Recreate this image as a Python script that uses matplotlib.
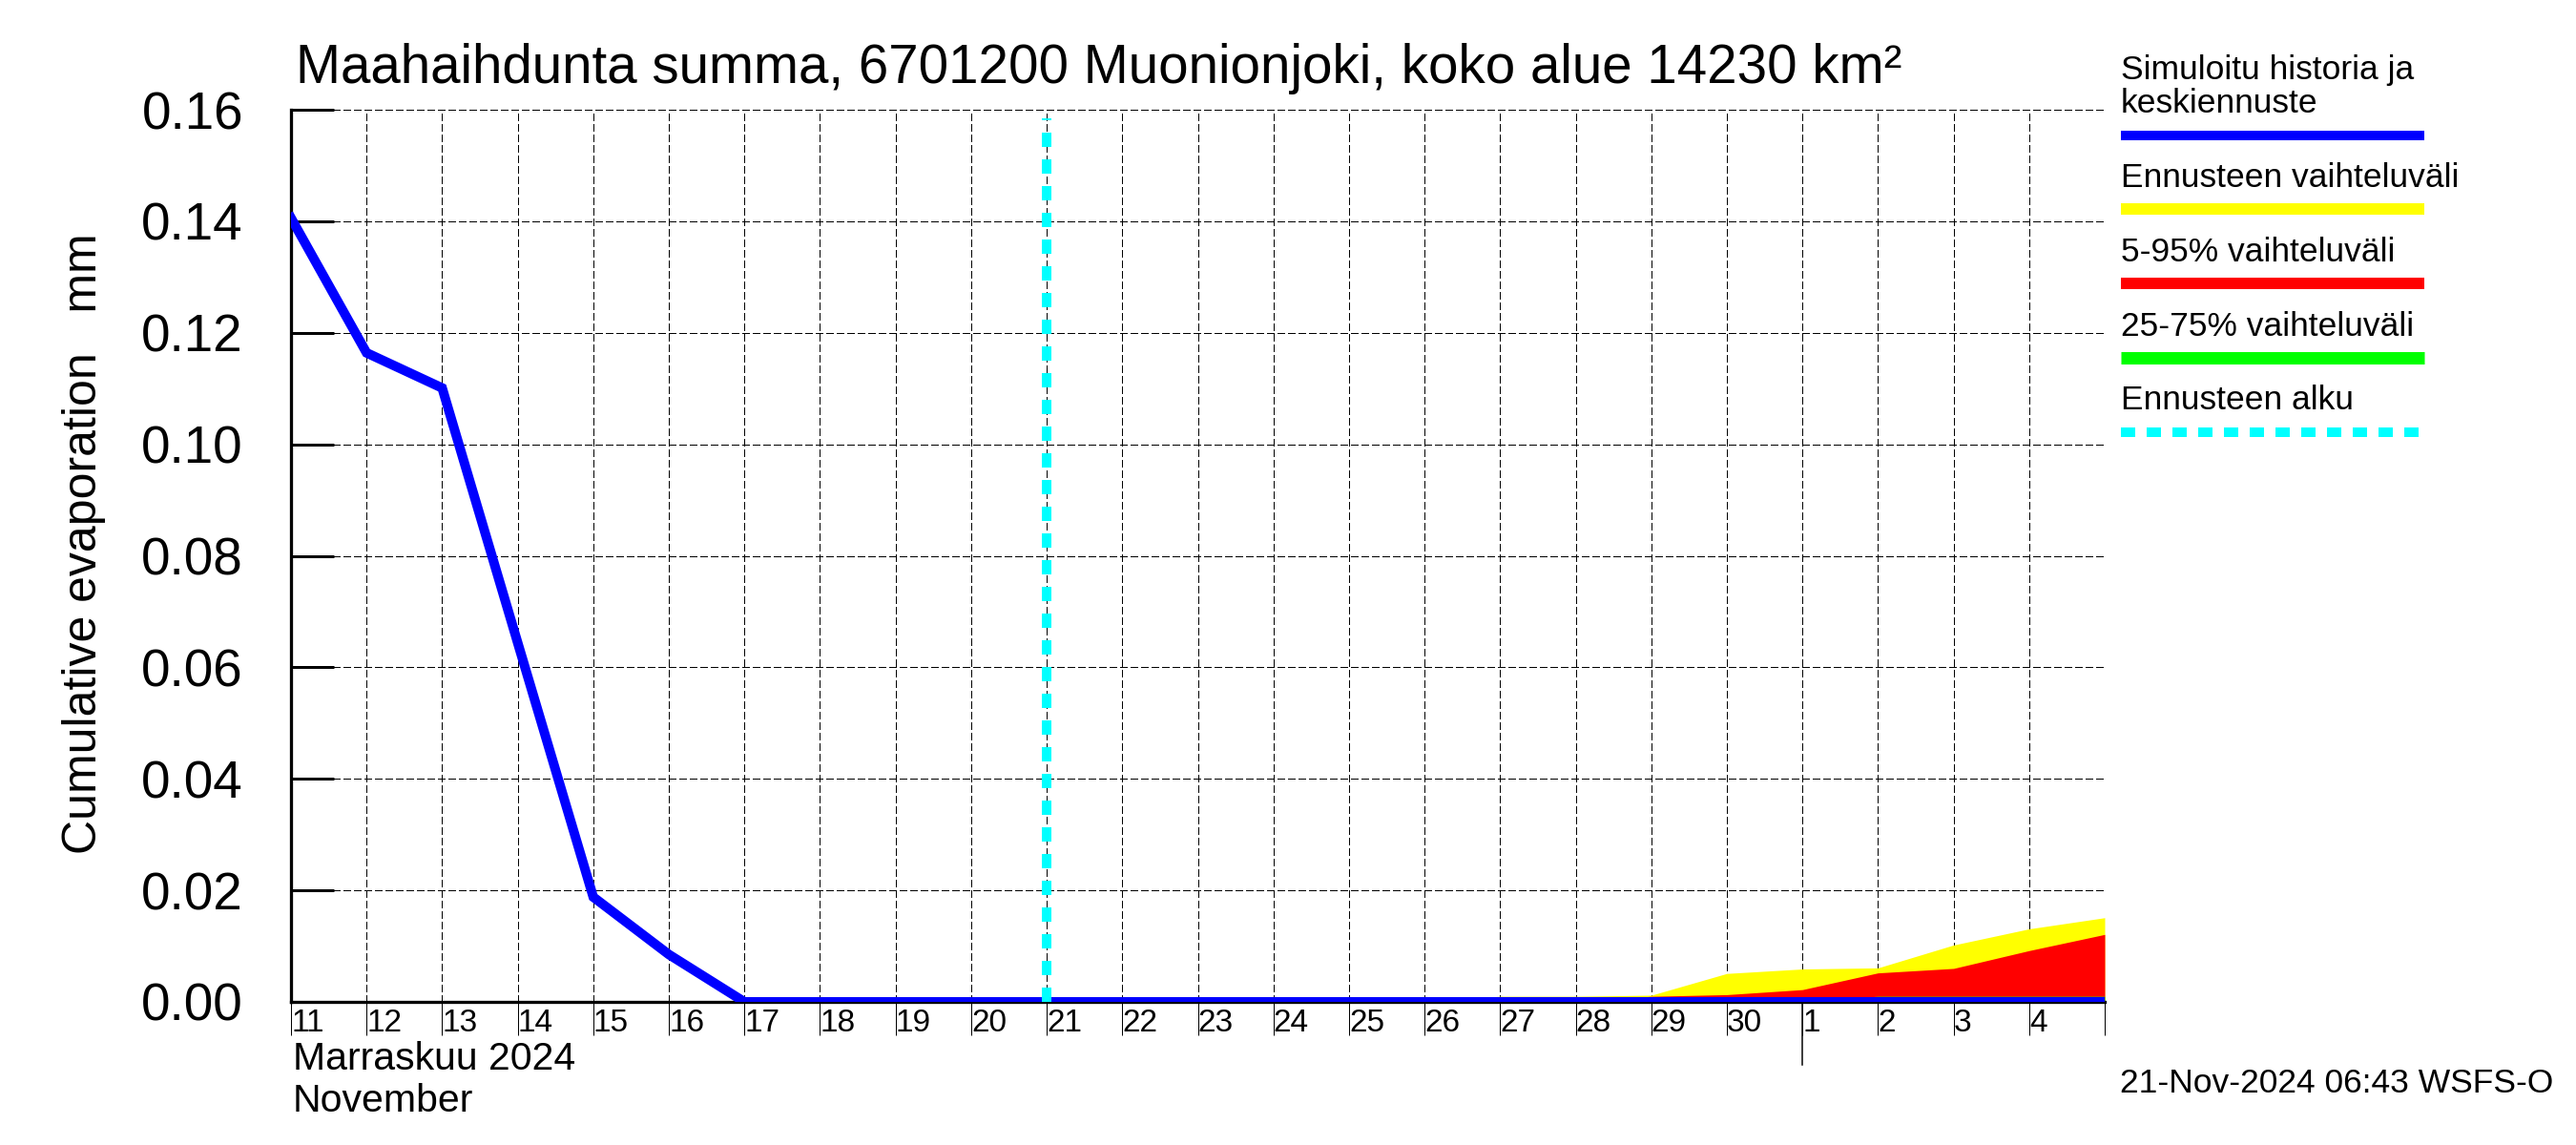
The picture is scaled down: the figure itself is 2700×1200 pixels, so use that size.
import numpy as np
import pandas as pd
import matplotlib
matplotlib.use("Agg")
import matplotlib.pyplot as plt
import matplotlib.transforms as mtransforms
from matplotlib.lines import Line2D

plt.rcParams['font.family'] = ['Liberation Sans', 'DejaVu Sans']

# simulated history (Nov 11 .. Nov 21)
hist_dates = pd.date_range("2024-11-11", "2024-11-21", freq="D")
hist_vals = [0.1406, 0.1164, 0.1101, 0.0644, 0.0188, 0.0085, 0.0, 0.0, 0.0, 0.0, 0.0]

# forecast (Nov 21 .. Dec 5)
fc_dates = pd.date_range("2024-11-21", "2024-12-05", freq="D")
fc_mean = [0.0] * 15
fc_min = [0.0] * 15
fc_max = [0.0, 0.0, 0.0, 0.0, 0.0, 0.0, 0.001, 0.001, 0.0012, 0.0051,
          0.0059, 0.0061, 0.0102, 0.0131, 0.0151]
fc_p95 = [0.0, 0.0, 0.0, 0.0, 0.0, 0.0, 0.0, 0.0, 0.001, 0.0013,
          0.0022, 0.0052, 0.006, 0.0092, 0.0121]
fc_p75 = [0.0] * 11 + [0.001, 0.001, 0.001, 0.001]

forecast_start = pd.Timestamp("2024-11-21")
month_start = pd.Timestamp("2024-12-01")

tick_dates = pd.date_range("2024-11-11", "2024-12-05", freq="D")
tick_labels = [str(d.day) for d in tick_dates[:-1]] + [""]
y_ticks = [0.00, 0.02, 0.04, 0.06, 0.08, 0.10, 0.12, 0.14, 0.16]

title = "Maahaihdunta summa, 6701200 Muonionjoki, koko alue 14230 km\u00b2"
ylabel = "Cumulative evaporation   mm"
legend_labels = ["Simuloitu historia ja\nkeskiennuste", "Ennusteen vaihteluväli",
                 "5-95% vaihteluväli", "25-75% vaihteluväli", "Ennusteen alku"]
footer = "21-Nov-2024 06:43 WSFS-O"

W, H = 2700, 1200
PT = 0.72  # px -> pt at dpi 100

fig = plt.figure(figsize=(27, 12), dpi=100)
ax = fig.add_axes([305 / W, 1 - 1050 / H, (2206 - 305) / W, (1050 - 115) / H])

ax.fill_between(fc_dates, fc_min, fc_max, color=(1, 1, 0), linewidth=0, zorder=2)
ax.fill_between(fc_dates, fc_min, fc_p95, color=(1, 0, 0), linewidth=0, zorder=3)
ax.fill_between(fc_dates, fc_min, fc_p75, color=(0, 1, 0), linewidth=0, zorder=4)
ax.plot(hist_dates, hist_vals, color=(0, 0, 1), linewidth=10 * PT, zorder=6,
        solid_joinstyle='miter')
ax.plot(fc_dates, fc_mean, color=(0, 0, 1), linewidth=10 * PT, zorder=6)
ax.plot([forecast_start, forecast_start], [0, 0.1585], color=(0, 1, 1),
        linewidth=10 * PT, linestyle=(0, (1.5, 1.3)), zorder=7)

ax.set_xlim(tick_dates[0], tick_dates[-1])
ax.set_ylim(0, 0.16)

ax.set_xticks(tick_dates)
ax.set_xticklabels(tick_labels, ha='left', fontsize=24)
offset = mtransforms.ScaledTranslation(3 / 100, 0, fig.dpi_scale_trans)
for lab in ax.get_xticklabels():
    lab.set_transform(lab.get_transform() + offset)
ax.tick_params(axis='x', direction='out', length=35 * PT, width=1 * PT,
               pad=-28 * PT, colors='black')

ax.set_yticks(y_ticks)
ax.set_yticklabels([f"{v:.2f}" for v in y_ticks], fontsize=39.5)
ax.tick_params(axis='y', direction='in', length=45 * PT, width=3 * PT, pad=50 * PT)

for side in ['top', 'right']:
    ax.spines[side].set_visible(False)
for side in ['left', 'bottom']:
    ax.spines[side].set_linewidth(3.3 * PT)
    ax.spines[side].set_zorder(5)

ax.grid(True, color='black', linestyle=(0, (7, 3.5)), linewidth=1.0 * PT, zorder=1,
        antialiased=False)
ax.set_axisbelow(True)

# month boundary line under the axis
ax.plot([month_start, month_start], [0, -66 / 935], color='black',
        linewidth=1.5 * PT, transform=ax.get_xaxis_transform(), clip_on=False)

fig.text(310 / W, 1 - 87 / H, title, fontsize=40.7, va='baseline', ha='left')
fig.text(88 / W, 1 - 570 / H, ylabel, fontsize=36, rotation=90, va='center', ha='center')
fig.text(307 / W, 1 - 1121 / H, "Marraskuu 2024", fontsize=29.5, va='baseline')
fig.text(307 / W, 1 - 1165 / H, "November", fontsize=29.5, va='baseline')
fig.text(2676 / W, 1 - 1145 / H, footer, fontsize=25.5, va='baseline', ha='right')

# legend
leg_x0, leg_x1 = 2223, 2541
fig.text(leg_x0 / W, 1 - 83 / H, "Simuloitu historia ja", fontsize=25.5, va='baseline')
fig.text(leg_x0 / W, 1 - 118 / H, "keskiennuste", fontsize=25.5, va='baseline')
entries = [
    (196, 219, legend_labels[1], (1, 1, 0), 12, '-'),
    (274, 297, legend_labels[2], (1, 0, 0), 12, '-'),
    (352, 375, legend_labels[3], (0, 1, 0), 13, '-'),
    (429, 453, legend_labels[4], (0, 1, 1), 10, (0, (1.5, 1.2))),
]
fig.add_artist(Line2D([leg_x0 / W, leg_x1 / W], [1 - 142 / H, 1 - 142 / H],
                      color=(0, 0, 1), linewidth=10 * PT, solid_capstyle='butt'))
for base, ly, text, col, lw, ls in entries:
    fig.text(leg_x0 / W, 1 - base / H, text, fontsize=25.5, va='baseline')
    fig.add_artist(Line2D([leg_x0 / W, leg_x1 / W], [1 - ly / H, 1 - ly / H],
                          color=col, linewidth=lw * PT, linestyle=ls,
                          solid_capstyle='butt', dash_capstyle='butt'))

fig.savefig("out.png", dpi=100)
